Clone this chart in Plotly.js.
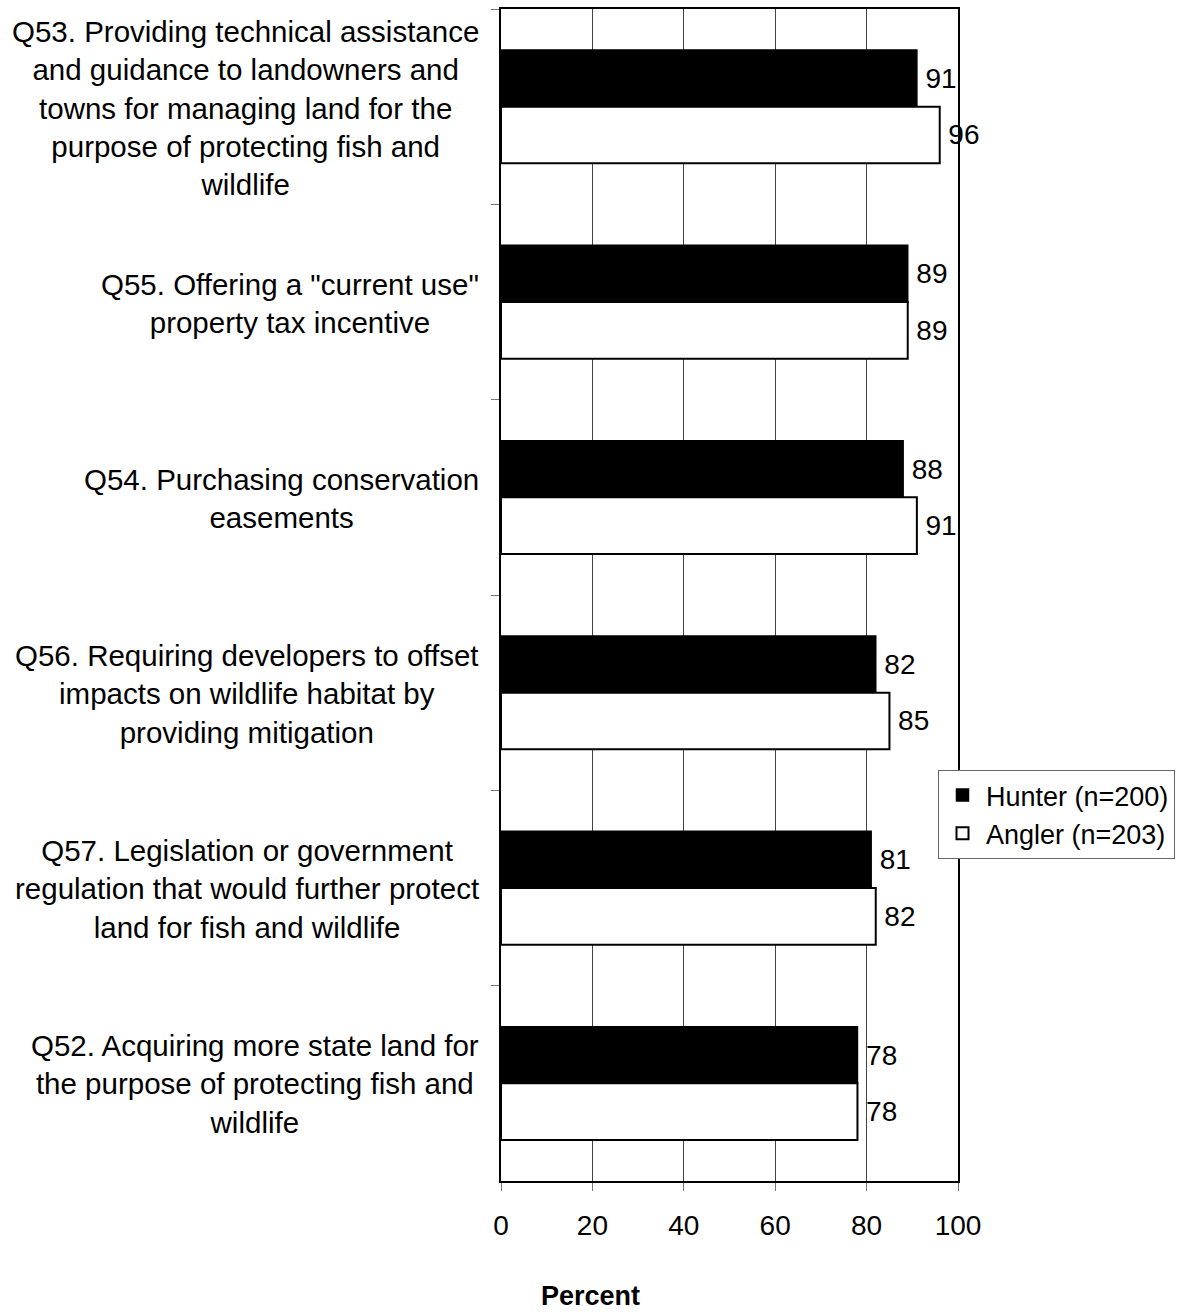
<!DOCTYPE html>
<html>
<head>
<meta charset="utf-8">
<script src="https://cdn.plot.ly/plotly-3.0.1.min.js"></script>
<style>html,body{margin:0;padding:0;background:#fff;}#chart{width:1180px;height:1315px;}</style>
</head>
<body>
<div id="chart"></div>
<script>
var categories = [
  'Q53. Providing technical assistance<br>and guidance to landowners and<br>towns for managing land for the<br>purpose of protecting fish and<br>wildlife',
  'Q55. Offering a "current use"<br>property tax incentive',
  'Q54. Purchasing conservation<br>easements',
  'Q56. Requiring developers to offset<br>impacts on wildlife habitat by<br>providing mitigation',
  'Q57. Legislation or government<br>regulation that would further protect<br>land for fish and wildlife',
  'Q52. Acquiring more state land for<br>the purpose of protecting fish and<br>wildlife'
];
var hunterValues = [91, 89, 88, 82, 81, 78];
var anglerValues = [96, 89, 91, 85, 82, 78];
var seriesNames = ['Hunter (n=200)', 'Angler (n=203)'];
var xTickValues = [0, 20, 40, 60, 80, 100];
var xTitle = 'Percent';

var FONT = 'Liberation Sans, Arial, sans-serif';

var traces = [
  {
    type: 'bar', orientation: 'h', name: seriesNames[0], legendgroup: 'h',
    y: categories, x: hunterValues,
    text: hunterValues.map(function (v) { return '\u2009' + v; }),
    textposition: 'outside', cliponaxis: false,
    textfont: {family: FONT, size: 28, color: '#000'},
    marker: {color: '#000', line: {color: '#000', width: 1.5}},
    hoverinfo: 'x'
  },
  {
    type: 'bar', orientation: 'h', name: seriesNames[1], legendgroup: 'a',
    y: categories, x: anglerValues,
    text: anglerValues.map(function (v) { return '\u2009' + v; }),
    textposition: 'outside', cliponaxis: false,
    textfont: {family: FONT, size: 28, color: '#000'},
    marker: {color: '#fff', line: {color: '#000', width: 2}},
    hoverinfo: 'x'
  }
];

var annotations = categories.map(function (c) {
  return {
    xref: 'paper', yref: 'y', x: 0, y: c, xanchor: 'right', yanchor: 'middle',
    xshift: -20, yshift: -1, text: c, showarrow: false, align: 'center',
    font: {family: FONT, size: 29.5, color: '#000'}
  };
});
annotations.push({
  xref: 'paper', yref: 'paper', x: (590 - 501) / 457, y: (1181 - 1296) / 1172,
  xanchor: 'center', yanchor: 'middle', text: '<b>' + xTitle + '</b>', showarrow: false,
  font: {family: FONT, size: 27, color: '#000'}
});

var layout = {
  width: 1180, height: 1315,
  margin: {l: 501, r: 222, t: 9, b: 134, pad: 0, autoexpand: false},
  paper_bgcolor: '#fff', plot_bgcolor: '#fff',
  font: {family: FONT, size: 28, color: '#000'},
  barmode: 'group', bargap: 0.42, bargroupgap: 0,
  showlegend: true,
  legend: {
    x: (938 - 501) / 457, y: (1181 - 770) / 1172, xanchor: 'left', yanchor: 'top',
    bgcolor: '#fff', bordercolor: '#666', borderwidth: 1,
    font: {family: FONT, size: 27, color: '#000'}, traceorder: 'normal',
    itemwidth: 37, tracegroupgap: 4
  },
  xaxis: {
    range: [0, 100], tickvals: xTickValues, ticktext: xTickValues.map(String),
    showgrid: true, gridcolor: '#444', gridwidth: 1, zeroline: false,
    showline: true, linecolor: '#000', linewidth: 2, mirror: true,
    ticks: 'outside', ticklen: 8, tickcolor: '#777', tickwidth: 1,
    ticklabelstandoff: 10, automargin: false,
    tickfont: {family: FONT, size: 28, color: '#000'}
  },
  yaxis: {
    type: 'category', autorange: 'reversed',
    showticklabels: false, tickson: 'boundaries', automargin: false,
    ticks: 'outside', ticklen: 8, tickcolor: '#777', tickwidth: 1,
    showgrid: false, zeroline: false,
    showline: true, linecolor: '#000', linewidth: 2, mirror: true
  },
  annotations: annotations
};

Plotly.newPlot('chart', traces, layout, {displayModeBar: false, staticPlot: true});
</script>
</body>
</html>
